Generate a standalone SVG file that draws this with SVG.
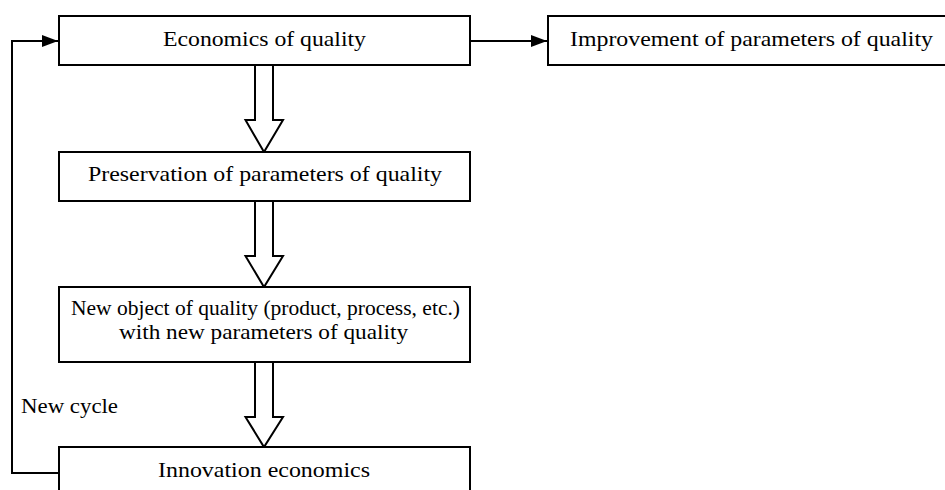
<svg xmlns="http://www.w3.org/2000/svg" width="945" height="490" viewBox="0 0 945 490">
<defs>
<style>
.box{fill:#fff;stroke:#000;stroke-width:2}
.ln{fill:none;stroke:#000;stroke-width:2}
.blk{fill:#fff;stroke:#000;stroke-width:2;stroke-linejoin:miter}
</style>
<marker id="ah" viewBox="0 0 16 12" refX="16" refY="6" markerWidth="16" markerHeight="12" markerUnits="userSpaceOnUse" orient="auto">
<path d="M0,0 L16,6 L0,12 Z" fill="#000"/>
</marker>
</defs>
<rect width="945" height="490" fill="#fff"/>
<g id="connectors">
<path class="ln" d="M59,473 H12 V41 H58" marker-end="url(#ah)"/>
<path class="ln" d="M470,41 H547" marker-end="url(#ah)"/>
<polygon class="blk" points="255,65 273,65 273,120 283,120 264,152 245.5,120 255,120"/>
<polygon class="blk" points="255,201 273,201 273,256 283,256 264,287 245.5,256 255,256"/>
<polygon class="blk" points="255,362 273,362 273,417 283,417 264,447 245.5,417 255,417"/>
</g>
<g font-family="Liberation Serif, serif" font-size="21" fill="#000">
<text x="21" y="413" textLength="97" lengthAdjust="spacingAndGlyphs">New cycle</text>
<g id="economics">
<rect class="box" x="59" y="16" width="411" height="49"/>
<text x="163" y="46" textLength="203" lengthAdjust="spacingAndGlyphs">Economics of quality</text>
</g>
<g id="improvement">
<rect class="box" x="548" y="16" width="410" height="49"/>
<text x="570" y="46" textLength="363" lengthAdjust="spacingAndGlyphs">Improvement of parameters of quality</text>
</g>
<g id="preservation">
<rect class="box" x="59" y="152" width="411" height="49"/>
<text x="88" y="181" textLength="354" lengthAdjust="spacingAndGlyphs">Preservation of parameters of quality</text>
</g>
<g id="newobject">
<rect class="box" x="59" y="287" width="411" height="75"/>
<text x="71" y="315" textLength="389" lengthAdjust="spacingAndGlyphs">New object of quality (product, process, etc.)</text>
<text x="119" y="339" textLength="289" lengthAdjust="spacingAndGlyphs">with new parameters of quality</text>
</g>
<g id="innovation">
<rect class="box" x="59" y="447" width="411" height="60"/>
<text x="158" y="477" textLength="212" lengthAdjust="spacingAndGlyphs">Innovation economics</text>
</g>
</g>
</svg>
